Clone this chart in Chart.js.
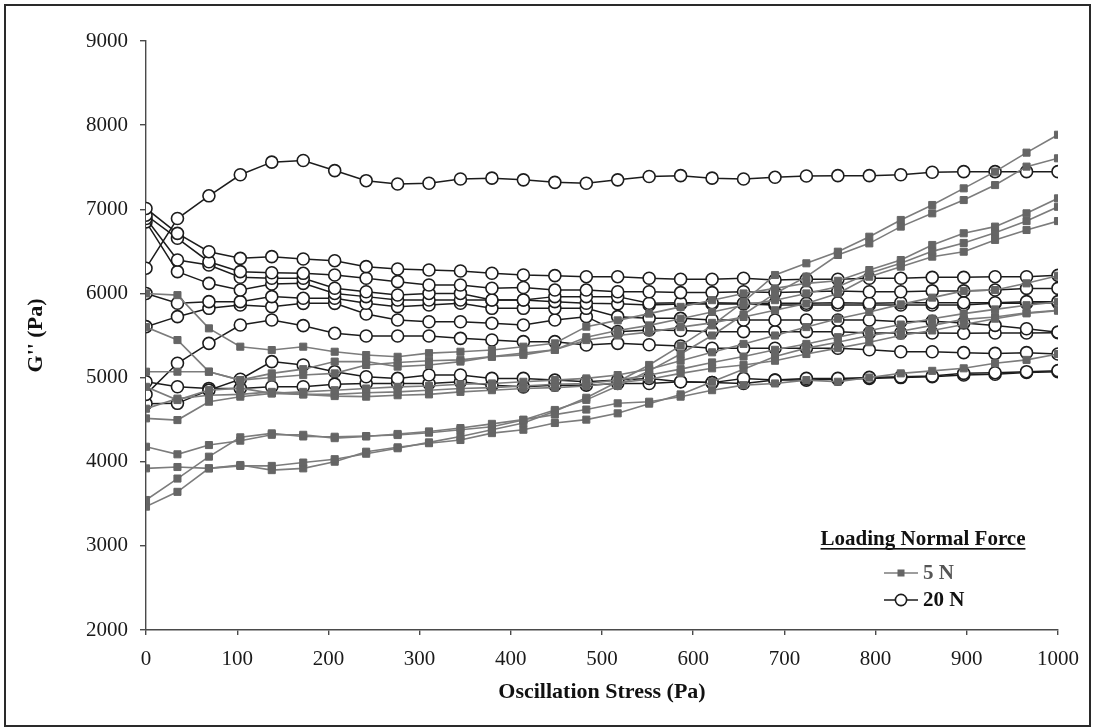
<!DOCTYPE html>
<html>
<head>
<meta charset="utf-8">
<script src="https://cdn.jsdelivr.net/npm/chart.js@4/dist/chart.umd.min.js"></script>
<style>
  html, body { margin: 0; padding: 0; background: #ffffff; }
  #wrap { width: 1095px; height: 728px; }
</style>
</head>
<body>
<div id="wrap"><canvas id="chart" width="1095" height="728"></canvas></div>
<script>
// Oscillation stress sweep (Pa)
const stress = [0, 34.5, 69, 103.4, 137.9, 172.4, 206.9, 241.4, 275.9, 310.3,
  344.8, 379.3, 413.8, 448.3, 482.8, 517.2, 551.7, 586.2, 620.7, 655.2,
  689.7, 724.1, 758.6, 793.1, 827.6, 862.1, 896.6, 931, 965.5, 1000];

// G'' (Pa) — samples loaded at 5 N
const g5N_a = [6000, 5980, 5585, 5367, 5327, 5367, 5307, 5268, 5247, 5290, 5307, 5327, 5367, 5407, 5605, 5680, 5760, 5840, 5920, 6000, 6060, 6120, 6150, 6278, 6397, 6576, 6715, 6794, 6952, 7130];
const g5N_b = [5600, 5446, 5070, 4970, 5050, 5100, 5190, 5190, 5130, 5150, 5190, 5247, 5270, 5330, 5480, 5560, 5620, 5700, 5780, 5860, 5920, 6000, 6080, 6240, 6360, 6500, 6600, 6720, 6860, 7030];
const g5N_c = [5070, 5070, 5070, 4970, 5000, 5030, 5050, 5150, 5180, 5200, 5210, 5250, 5290, 5330, 5446, 5500, 5540, 5600, 5650, 5720, 5800, 5880, 6000, 6199, 6318, 6437, 6496, 6636, 6754, 6860];
const g5N_d = [4890, 4733, 4851, 4875, 4812, 4830, 4850, 4870, 4890, 4900, 4920, 4930, 4950, 4970, 4990, 5030, 5100, 5200, 5300, 5400, 5500, 5600, 5700, 5780, 5870, 5950, 6030, 6040, 6120, 6210];
const g5N_e = [4630, 4750, 4790, 4800, 4830, 4800, 4800, 4820, 4830, 4850, 4870, 4880, 4900, 4920, 4930, 4970, 5030, 5100, 5180, 5250, 5330, 5400, 5480, 5560, 5630, 5700, 5760, 5810, 5860, 5900];
const g5N_f = [4515, 4495, 4713, 4773, 4812, 4800, 4780, 4773, 4790, 4800, 4830, 4850, 4870, 4880, 4900, 4940, 4980, 5050, 5110, 5150, 5200, 5280, 5350, 5420, 5500, 5560, 5630, 5700, 5763, 5795];
const g5N_g = [4178, 4088, 4198, 4250, 4320, 4320, 4280, 4300, 4330, 4360, 4400, 4450, 4500, 4560, 4620, 4694, 4713, 4773, 4850, 4910, 4930, 4970, 4950, 5000, 5050, 5080, 5110, 5170, 5210, 5280];
const g5N_h = [3545, 3800, 4060, 4290, 4337, 4300, 4297, 4305, 4317, 4345, 4380, 4415, 4495, 4615, 4735, 4900, 5080, 5280, 5500, 5750, 6000, 6200, 6457, 6595, 6794, 6952, 7110, 7288, 7507, 7606];
const g5N_i = [3466, 3642, 3921, 3950, 3950, 3990, 4030, 4095, 4160, 4230, 4300, 4380, 4460, 4600, 4760, 4950, 5150, 5380, 5620, 5900, 6219, 6358, 6496, 6674, 6873, 7051, 7249, 7447, 7673, 7886];
const g5N_j = [3921, 3937, 3921, 3961, 3900, 3921, 4000, 4119, 4171, 4220, 4258, 4340, 4380, 4460, 4500, 4575, 4690, 4800, 4950, 5100, 5250, 5350, 5420, 5500, 5550, 5620, 5692, 5720, 5770, 5800];

// G'' (Pa) — samples loaded at 20 N
const g20N_a = [6300, 6890, 7160, 7410, 7560, 7580, 7460, 7340, 7300, 7310, 7360, 7370, 7350, 7320, 7310, 7350, 7390, 7400, 7370, 7360, 7380, 7395, 7400, 7400, 7410, 7440, 7447, 7447, 7447, 7447];
const g20N_b = [7010, 6714, 6496, 6417, 6437, 6409, 6389, 6318, 6290, 6278, 6266, 6240, 6219, 6211, 6199, 6199, 6180, 6168, 6168, 6180, 6160, 6168, 6168, 6180, 6180, 6191, 6191, 6199, 6199, 6215];
const g20N_c = [6930, 6655, 6377, 6259, 6246, 6239, 6219, 6180, 6140, 6100, 6100, 6061, 6070, 6040, 6040, 6020, 6020, 6010, 6010, 6020, 6010, 6020, 6030, 6020, 6020, 6030, 6030, 6040, 6060, 6060];
const g20N_d = [6890, 6397, 6338, 6192, 6180, 6180, 6061, 6020, 5981, 6000, 6000, 5922, 5922, 5962, 5962, 5962, 5883, 5890, 5890, 5883, 5883, 5883, 5890, 5883, 5890, 5890, 5890, 5890, 5902, 5902];
const g20N_e = [6850, 6259, 6120, 6040, 6112, 6120, 6000, 5962, 5922, 5922, 5922, 5922, 5922, 5902, 5883, 5876, 5862, 5874, 5874, 5874, 5862, 5862, 5862, 5862, 5862, 5862, 5862, 5883, 5883, 5890];
const g20N_f = [6000, 5883, 5902, 5902, 5962, 5942, 5942, 5883, 5843, 5862, 5883, 5823, 5823, 5823, 5823, 5724, 5704, 5704, 5684, 5684, 5684, 5684, 5684, 5684, 5664, 5670, 5650, 5620, 5580, 5540];
const g20N_g = [5605, 5724, 5823, 5862, 5843, 5882, 5882, 5756, 5684, 5664, 5664, 5645, 5625, 5684, 5724, 5546, 5565, 5560, 5546, 5546, 5546, 5546, 5546, 5530, 5530, 5530, 5526, 5530, 5530, 5534];
const g20N_h = [4800, 5170, 5407, 5625, 5684, 5617, 5526, 5494, 5494, 5494, 5466, 5446, 5427, 5427, 5387, 5407, 5390, 5375, 5348, 5348, 5348, 5348, 5348, 5330, 5307, 5307, 5296, 5287, 5296, 5280];
const g20N_i = [4690, 4694, 4851, 4980, 5190, 5150, 5070, 5010, 4990, 5030, 5030, 4990, 4990, 4970, 4950, 4970, 4990, 4950, 4940, 4990, 4970, 4990, 4990, 5002, 5010, 5018, 5050, 5058, 5070, 5082];
const g20N_j = [4950, 4891, 4871, 4871, 4891, 4891, 4922, 4930, 4930, 4930, 4950, 4910, 4890, 4910, 4910, 4930, 4930, 4950, 4940, 4930, 4970, 4970, 4980, 4990, 5000, 5010, 5030, 5040, 5060, 5070];

// Axis ranges and tick steps
const xRange = [0, 1000];
const yRange = [2000, 9000];
const xStep = 100;
const yStep = 1000;

const legendTitle = 'Loading Normal Force';
const forceLabels = ['5 N', '20 N'];

const serif = '"Liberation Serif", "Times New Roman", Times, serif';
const grey5N = { line: '#7c7c7c', mark: '#656565', text: '#555555' };
const black20N = { line: '#1c1c1c', mark: '#1c1c1c', text: '#111111' };

const series5N = [g5N_a, g5N_b, g5N_c, g5N_d, g5N_e, g5N_f, g5N_g, g5N_h, g5N_i, g5N_j];
const series20N = [g20N_a, g20N_b, g20N_c, g20N_d, g20N_e, g20N_f, g20N_g, g20N_h, g20N_i, g20N_j];

function toPoints(values) {
  return values.map((v, i) => ({ x: stress[i], y: v }));
}

function set5N(values) {
  return {
    label: forceLabels[0],
    data: toPoints(values),
    borderColor: grey5N.line,
    borderWidth: 1.6,
    pointStyle: 'rect',
    pointRadius: 5,
    pointBackgroundColor: grey5N.mark,
    pointBorderColor: grey5N.mark,
    pointBorderWidth: 1,
    tension: 0,
    fill: false
  };
}

function set20N(values) {
  return {
    label: forceLabels[1],
    data: toPoints(values),
    borderColor: black20N.line,
    borderWidth: 1.5,
    pointStyle: 'circle',
    pointRadius: 6,
    pointBackgroundColor: '#ffffff',
    pointBorderColor: black20N.mark,
    pointBorderWidth: 1.6,
    tension: 0,
    fill: false
  };
}

// 5 N datasets come first so their markers sit on top of the open circles
const datasets = series5N.map(set5N).concat(series20N.map(set20N));

// White page with a dark frame around the whole figure
const framePlugin = {
  id: 'frame',
  beforeDraw(chart) {
    const ctx = chart.ctx;
    ctx.save();
    ctx.fillStyle = '#ffffff';
    ctx.fillRect(0, 0, chart.width, chart.height);
    ctx.strokeStyle = '#2a2a2a';
    ctx.lineWidth = 2;
    ctx.strokeRect(5, 5, chart.width - 10, chart.height - 7);
    ctx.restore();
  }
};

// Legend inside the plot, lower right
const forceLegend = {
  id: 'forceLegend',
  afterDraw(chart) {
    const ctx = chart.ctx;
    const cx = 923;
    ctx.save();
    ctx.font = 'bold 21px ' + serif;
    ctx.fillStyle = '#111111';
    ctx.textAlign = 'center';
    ctx.textBaseline = 'alphabetic';
    ctx.fillText(legendTitle, cx, 545);
    const w = ctx.measureText(legendTitle).width;
    ctx.fillRect(cx - w / 2, 548, w, 1.6);

    const entries = [
      { y: 573, style: grey5N, rect: true, text: forceLabels[0] },
      { y: 600, style: black20N, rect: false, text: forceLabels[1] }
    ];
    entries.forEach(e => {
      ctx.strokeStyle = e.style.line;
      ctx.lineWidth = 1.6;
      ctx.beginPath();
      ctx.moveTo(884, e.y);
      ctx.lineTo(918, e.y);
      ctx.stroke();
      if (e.rect) {
        ctx.fillStyle = e.style.mark;
        ctx.fillRect(901 - 3.5, e.y - 3.5, 7, 7);
      } else {
        ctx.fillStyle = '#ffffff';
        ctx.beginPath();
        ctx.arc(901, e.y, 5.6, 0, Math.PI * 2);
        ctx.fill();
        ctx.lineWidth = 1.6;
        ctx.strokeStyle = e.style.mark;
        ctx.stroke();
      }
      ctx.fillStyle = e.style.text;
      ctx.textAlign = 'left';
      ctx.textBaseline = 'middle';
      ctx.font = 'bold 21px ' + serif;
      ctx.fillText(e.text, 923, e.y + 1);
    });
    ctx.restore();
  }
};

const axisColor = '#4a4a4a';
const plainNumber = (value) => String(value);

new Chart(document.getElementById('chart'), {
  type: 'line',
  data: { datasets },
  plugins: [framePlugin, forceLegend],
  options: {
    responsive: false,
    animation: false,
    devicePixelRatio: 1,
    layout: { padding: { left: 0, right: 37, top: 41, bottom: 0 } },
    plugins: {
      legend: { display: false },
      tooltip: { enabled: false }
    },
    scales: {
      x: {
        type: 'linear',
        min: xRange[0],
        max: xRange[1],
        afterFit(scale) { scale.height = 98; },
        ticks: {
          stepSize: xStep,
          callback: plainNumber,
          color: '#1a1a1a',
          padding: 12,
          maxRotation: 0,
          font: { family: serif, size: 21 }
        },
        grid: { display: true, drawOnChartArea: false, drawTicks: true, tickLength: 5, color: axisColor, lineWidth: 1.4 },
        border: { display: true, color: axisColor, width: 1.4 },
        title: {
          display: true,
          text: 'Oscillation Stress (Pa)',
          color: '#111111',
          font: { family: serif, size: 22, weight: 'bold' },
          padding: { top: 0, bottom: 22 }
        }
      },
      y: {
        type: 'linear',
        min: yRange[0],
        max: yRange[1],
        afterFit(scale) { scale.width = 146; },
        ticks: {
          stepSize: yStep,
          callback: plainNumber,
          color: '#1a1a1a',
          padding: 12,
          font: { family: serif, size: 21 }
        },
        grid: { display: true, drawOnChartArea: false, drawTicks: true, tickLength: 6, color: axisColor, lineWidth: 1.4 },
        border: { display: true, color: axisColor, width: 1.4 },
        title: {
          display: true,
          text: "G'' (Pa)",
          color: '#111111',
          font: { family: serif, size: 22, weight: 'bold' },
          padding: { top: 23, bottom: 0 }
        }
      }
    }
  }
});
</script>
</body>
</html>
